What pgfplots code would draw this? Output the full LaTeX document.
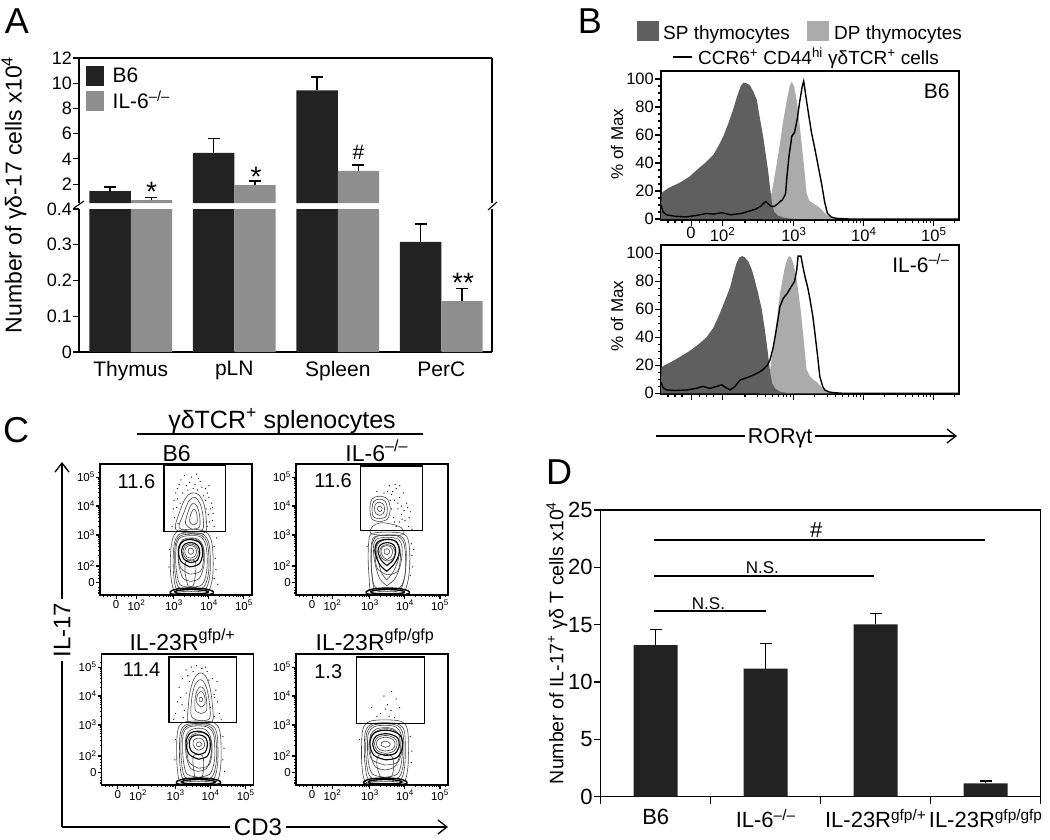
\documentclass[border=0pt]{standalone}
\usepackage{fontspec}
\setmainfont{Liberation Sans}
\usepackage{pgfplots}
\pgfplotsset{compat=1.18}
\usetikzlibrary{arrows.meta}

\definecolor{barK}{HTML}{222222}
\definecolor{barG}{HTML}{8E8E8E}
\definecolor{spG}{HTML}{5F5F5F}
\definecolor{dpG}{HTML}{ABABAB}
\newcommand{\fs}[1]{\fontsize{#1}{#1}\selectfont}

\pgfplotsset{
  every axis/.append style={scale only axis, anchor=south west,
    /pgf/number format/assume math mode=true, clip marker paths=true,
    axis line style={line width=1.1pt}, tick style={line width=1.1pt,black},
    tick align=outside},
  errs/.style={error bars/y dir=plus, error bars/y explicit,
    error bars/error bar style={line width=1.4pt,black},
    error bars/error mark options={rotate=90,black,line width=1.4pt,mark size=6pt}},
  flow/.style={width=152pt, height=131pt,
    xmin=0.89, xmax=5.23, ymin=0.93, ymax=5.45,
    xtick={1.35,1.93,3,4,5}, ytick={1.35,1.93,3,4,5},
    xticklabels={0,{10\textsuperscript{2}},{10\textsuperscript{3}},{10\textsuperscript{4}},{10\textsuperscript{5}}},
    yticklabels={0,{10\textsuperscript{2}},{10\textsuperscript{3}},{10\textsuperscript{4}},{10\textsuperscript{5}}},
    minor xtick={1.0,1.1,1.2,1.5,1.6,1.7,1.8,2.30,2.48,2.60,2.70,2.78,2.85,2.90,2.95,3.30,3.48,3.60,3.70,3.78,3.85,3.90,3.95,4.30,4.48,4.60,4.70,4.78,4.85,4.90,4.95,5.15},
    minor ytick={1.0,1.1,1.2,1.5,1.6,1.7,1.8,2.30,2.48,2.60,2.70,2.78,2.85,2.90,2.95,3.30,3.48,3.60,3.70,3.78,3.85,3.90,3.95,4.30,4.48,4.60,4.70,4.78,4.85,4.90,4.95,5.15},
    major tick length=4pt, minor tick length=2pt,
    xtick pos=bottom, ytick pos=left,
    ticklabel style={font=\fs{11.5}, inner sep=1pt},
    axis line style={line width=1.2pt}},
  cO/.style={smooth, tension=0.55, mark=none, line width=0.6pt, draw=black!72},
  cR/.style={smooth, tension=0.55, mark=none, line width=1.1pt, draw=black},
  cB/.style={smooth, tension=0.55, mark=none, line width=1.4pt, draw=black},
  dots/.style={only marks, mark=*, mark size=0.35pt, mark options={draw=none, fill=black!60}},
  hist/.style={width=298pt, height=149pt, xmin=1.10, xmax=5.36, ymin=-0.7, ymax=105.7,
    ytick={0,20,40,60,80,100}, minor y tick num=3,
    xtick={1.53,1.98,3,4,5},
    minor xtick={1.2,1.3,1.4,1.65,1.75,1.85,2.30,2.48,2.60,2.70,2.78,2.85,2.90,2.95,3.30,3.48,3.60,3.70,3.78,3.85,3.90,3.95,4.30,4.48,4.60,4.70,4.78,4.85,4.90,4.95,5.30},
    major tick length=6pt, minor tick length=3pt,
    xtick pos=bottom, ytick pos=left,
    ticklabel style={font=\fs{16.5}, inner sep=1pt},
    axis line style={line width=1.4pt}},
}

\begin{document}
\begin{tikzpicture}
\path[use as bounding box] (0pt,0pt) rectangle (1050pt,-839pt);

% ---------------- panel A
\node[font=\fs{36}] at (17pt,-21pt) {A};
\begin{axis}[at={(79pt,-352pt)}, width=413pt, height=143pt,
  xmin=-0.5, xmax=3.49, ymin=0, ymax=0.4,
  axis x line*=bottom, axis y line*=box, ytick pos=left,
  ytick={0,0.1,0.2,0.3,0.4}, yticklabels={0,0.1,0.2,0.3,0.4},
  xtick={0,1,2,3}, xticklabels={Thymus,pLN,Spleen,PerC},
  x tick style={draw=none}, major tick length=6pt,
  yticklabel style={font=\fs{18}, inner sep=1pt},
  xticklabel style={font=\fs{21}}]
\addplot[ybar, bar width=0.4, bar shift=0pt, fill=barK, draw=none, errs]
  coordinates {(-0.2,1.44) +- (0,0.32) (0.8,4.48) +- (0,1.12) (1.8,9.44) +- (0,1.04) (2.8,0.308) +- (0,0.05)};
\addplot[ybar, bar width=0.4, bar shift=0pt, fill=barG, draw=none, errs]
  coordinates {(0.2,0.72) +- (0,0.24) (1.2,1.92) +- (0,0.32) (2.2,3.04) +- (0,0.48) (3.2,0.142) +- (0,0.036)};
\node[font=\fs{28}, anchor=north, inner sep=0pt] at (axis cs:3.21,0.222) {**};
\end{axis}
\begin{axis}[at={(79pt,-203pt)}, width=413pt, height=145pt,
  xmin=-0.5, xmax=3.49, ymin=0.5, ymax=12,
  axis x line*=top, axis y line*=box, ytick pos=left,
  ytick={2,4,6,8,10,12}, xtick=\empty, major tick length=6pt,
  yticklabel style={font=\fs{18}, inner sep=1pt},
  legend style={at={(0.017,0.945)}, anchor=north west, draw=none, fill=none,
    font=\fs{21}, inner sep=0pt, row sep=3pt, nodes={inner sep=1.5pt, anchor=west}},
  legend image code/.code={\fill[#1] (0pt,-10pt) rectangle (18pt,10pt); \path (25pt,0pt);}]
\addlegendimage{fill=barK, draw=none}
\addlegendentry{B6}
\addlegendimage{fill=barG, draw=none}
\addlegendentry{IL-6\textsuperscript{–/–}}
% upper part of the broken axis: only the groups that reach above 0.5
\addplot[ybar, bar width=0.4, bar shift=0pt, fill=barK, draw=none, errs, forget plot]
  coordinates {(-0.2,1.44) +- (0,0.32) (0.8,4.48) +- (0,1.12) (1.8,9.44) +- (0,1.04)};
\addplot[ybar, bar width=0.4, bar shift=0pt, fill=barG, draw=none, errs, forget plot]
  coordinates {(0.2,0.72) +- (0,0.24) (1.2,1.92) +- (0,0.32) (2.2,3.04) +- (0,0.48)};
\node[font=\fs{28}, anchor=north, inner sep=0pt] at (axis cs:0.2,2.18) {*};
\node[font=\fs{28}, anchor=north, inner sep=0pt] at (axis cs:1.21,3.38) {*};
\node[font=\fs{21}, anchor=north, inner sep=0pt] at (axis cs:2.2,5.12) {\#};
\end{axis}
\draw[line width=1.1pt] (74pt,-208pt) -- (84pt,-201pt);
\draw[line width=1.1pt] (488pt,-210pt) -- (497pt,-202pt);
\node[rotate=90, font=\fs{23}] at (14pt,-195pt) {Number of γδ-17 cells x10\textsuperscript{4}};

% ---------------- panel B
\node[font=\fs{36}] at (590pt,-21pt) {B};
\fill[spG] (637pt,-20.7pt) rectangle (659pt,-41pt);
\node[anchor=base west, font=\fs{19}, inner sep=0pt] at (663pt,-39pt) {SP thymocytes};
\fill[dpG] (807pt,-20.7pt) rectangle (829pt,-41pt);
\node[anchor=base west, font=\fs{19}, inner sep=0pt] at (834pt,-39pt) {DP thymocytes};
\draw[line width=1.3pt] (673pt,-57pt) -- (692pt,-57pt);
\node[anchor=base west, font=\fs{19}, inner sep=0pt] at (698pt,-64pt) {CCR6\textsuperscript{+} CD44\textsuperscript{hi} γδTCR\textsuperscript{+} cells};

\begin{axis}[hist, at={(661pt,-220pt)},
  xticklabels={0,{10\textsuperscript{2}},{10\textsuperscript{3}},{10\textsuperscript{4}},{10\textsuperscript{5}}}]
\addplot[fill=dpG, draw=none] coordinates {(2.55,0) (2.6,2) (2.64,7) (2.68,18.5) (2.74,35) (2.80,54) (2.85,71) (2.90,85) (2.94,95) (2.97,98) (3.0,95) (3.04,85) (3.08,68) (3.11,54) (3.15,35) (3.18,18.5) (3.22,13) (3.28,11) (3.33,9.5) (3.37,8) (3.42,5.5) (3.47,3) (3.52,1.2) (3.56,0.5) (3.62,0)} \closedcycle;
\addplot[fill=spG, draw=none] coordinates {(1.10,0) (1.105,18) (1.13,19.5) (1.2,22) (1.37,26) (1.5,30) (1.61,35) (1.73,40) (1.85,46) (1.93,53) (1.99,59) (2.06,68) (2.13,78) (2.19,88) (2.24,95) (2.28,97.5) (2.32,97) (2.37,95.5) (2.42,91) (2.47,85) (2.51,73) (2.56,59) (2.60,45) (2.63,35) (2.65,26) (2.67,18) (2.69,10) (2.72,5) (2.77,2.5) (2.85,1) (2.95,0.3) (3.05,0)} \closedcycle;
\addplot[black, line width=1.4pt, mark=none] coordinates {(1.10,10) (1.13,5) (1.18,3) (1.3,2) (1.45,1.5) (1.6,2.5) (1.75,4) (1.85,3.5) (1.97,4.5) (2.1,3) (2.25,4) (2.35,5.5) (2.45,7) (2.52,9) (2.56,11) (2.60,12.5) (2.64,10.5) (2.68,9) (2.72,9) (2.77,11) (2.84,14) (2.88,18) (2.90,30) (2.93,45) (2.97,59) (3.01,62) (3.05,72) (3.08,83) (3.12,95) (3.14,98.5) (3.17,88) (3.20,78) (3.25,62) (3.30,50) (3.35,37) (3.40,24) (3.44,12) (3.48,4) (3.53,1.5) (3.6,0.5) (3.8,0) (5.36,0)};
\end{axis}
\node[anchor=base east, font=\fs{21}] at (953pt,-98pt) {B6};

\begin{axis}[hist, at={(661pt,-394pt)}, ymin=-0.5, ymax=105.9, xticklabels={}]
\addplot[fill=dpG, draw=none] coordinates {(2.5,0) (2.56,5) (2.62,11) (2.66,17) (2.70,30) (2.73,43) (2.77,58) (2.80,71) (2.84,82) (2.87,90) (2.90,95) (2.93,98) (2.96,97) (2.99,93) (3.03,84) (3.06,74) (3.10,58) (3.13,43) (3.16,28) (3.18,17) (3.22,13) (3.25,11) (3.30,9) (3.35,7) (3.40,4) (3.44,2) (3.51,0.5) (3.58,0)} \closedcycle;
\addplot[fill=spG, draw=none] coordinates {(1.10,0) (1.105,18) (1.13,19.5) (1.25,22.5) (1.37,26) (1.47,29) (1.56,32) (1.66,36) (1.75,40) (1.85,47) (1.94,57) (2.02,67) (2.09,76) (2.14,86) (2.18,93) (2.22,97) (2.26,98) (2.30,97) (2.35,94) (2.40,88) (2.44,81) (2.49,71) (2.54,60) (2.58,47) (2.61,36) (2.64,24) (2.66,15) (2.69,7) (2.73,3.5) (2.80,1.2) (2.9,0.3) (3.0,0)} \closedcycle;
\addplot[black, line width=1.4pt, mark=none] coordinates {(1.10,8) (1.13,4) (1.18,2.4) (1.3,2) (1.47,2.4) (1.6,3.5) (1.70,5) (1.80,3.5) (1.90,5) (1.97,6) (2.03,4) (2.09,2.4) (2.16,5) (2.23,9.5) (2.32,11) (2.42,13) (2.50,15) (2.56,17) (2.62,20) (2.66,24) (2.70,32) (2.73,40) (2.77,52) (2.80,62) (2.85,68) (2.90,71) (2.96,76) (3.01,80) (3.04,88) (3.06,98) (3.10,98) (3.13,90) (3.16,83) (3.20,75) (3.23,67) (3.27,55) (3.30,43) (3.34,26) (3.37,12) (3.41,5) (3.44,2.4) (3.5,1) (3.56,0.5) (3.7,0) (5.36,0)};
\end{axis}
\node[anchor=base east, font=\fs{21}] at (953pt,-272pt) {IL-6\textsuperscript{–/–}};
\node[rotate=90, font=\fs{17}] at (617pt,-144pt) {\% of Max};
\node[rotate=90, font=\fs{17}] at (617pt,-316pt) {\% of Max};
\draw[line width=1.3pt, -{Straight Barb[length=9pt,width=14pt]}] (656pt,-436pt) -- (957pt,-436pt);
\node[anchor=base, fill=white, font=\fs{21.5}, inner sep=3pt] at (780pt,-443pt) {RORγt};

% ---------------- panel C
\node[font=\fs{36}] at (16pt,-430pt) {C};
\node[anchor=base, font=\fs{25}] at (282pt,-428pt) {γδTCR\textsuperscript{+} splenocytes};
\draw[line width=1.2pt] (137pt,-434pt) -- (423pt,-434pt);
\node[anchor=base, font=\fs{23}] at (176.7pt,-461pt) {B6};
\node[anchor=base, font=\fs{23}] at (376.7pt,-461pt) {IL-6\textsuperscript{–/–}};
\node[anchor=base, font=\fs{23}] at (182.5pt,-650pt) {IL-23R\textsuperscript{gfp/+}};
\node[anchor=base, font=\fs{23}] at (375pt,-650pt) {IL-23R\textsuperscript{gfp/gfp}};

% B6
\begin{axis}[flow, at={(100pt,-595pt)}]
\addplot[dots] coordinates {(3.0,4.2) (3.1,4.6) (3.2,4.9) (3.35,4.7) (3.5,5.0) (3.6,4.75) (3.75,4.85) (3.9,4.6) (4.0,4.3) (4.05,3.9) (4.1,3.5) (4.15,3.3) (3.98,3.7) (3.95,4.45) (3.02,3.6) (2.95,3.3) (3.08,3.95) (3.25,4.45) (3.4,4.55) (3.8,4.65) (3.68,4.55) (4.08,4.1) (3.92,3.9) (2.98,3.9) (3.12,3.4) (3.55,4.6) (3.85,4.35) (4.02,3.45) (3.3,5.05) (3.65,5.1) (4.12,3.75) (3.1,4.25) (3.45,4.82) (4.0,4.7) (4.15,2.6) (4.18,2.2) (4.2,1.8) (4.15,1.5) (4.22,2.9) (2.88,2.5) (2.86,1.9) (4.25,1.3) (3.05,4.45) (3.18,4.1) (3.9,4.2) (3.95,3.3) (3.7,4.95) (3.15,4.75) (4.1,3.95) (3.05,3.25)};
\addplot[cO] coordinates {(3.5,0.98) (3.95,1.02) (4.1,1.5) (4.12,2.2) (4.07,2.8) (3.9,3.12) (3.5,3.2) (3.1,3.12) (2.95,2.8) (2.9,2.2) (2.92,1.5) (3.05,1.02) (3.5,0.98)};
\addplot[cO] coordinates {(3.5,1.05) (3.88,1.1) (4.02,1.55) (4.04,2.2) (3.99,2.75) (3.84,3.02) (3.5,3.08) (3.15,3.02) (3.02,2.75) (2.98,2.2) (3.0,1.55) (3.1,1.1) (3.5,1.05)};
\addplot[cO] coordinates {(3.49,1.12) (3.84,1.19) (3.98,1.62) (4.0,2.22) (3.95,2.72) (3.8,2.98) (3.49,3.03) (3.18,2.97) (3.05,2.72) (3.02,2.2) (3.04,1.62) (3.14,1.19) (3.49,1.12)};
\addplot[cO] coordinates {(3.48,1.2) (3.8,1.28) (3.93,1.7) (3.95,2.25) (3.9,2.7) (3.76,2.94) (3.48,2.98) (3.2,2.92) (3.08,2.7) (3.05,2.2) (3.08,1.7) (3.18,1.28) (3.48,1.2)};
\addplot[cO] coordinates {(3.47,1.4) (3.72,1.5) (3.85,1.9) (3.87,2.3) (3.82,2.66) (3.68,2.86) (3.47,2.9) (3.26,2.84) (3.14,2.62) (3.12,2.2) (3.17,1.8) (3.27,1.5) (3.47,1.4)};
\addplot[cO] coordinates {(3.46,1.65) (3.76,1.75) (3.85,2.2) (3.82,2.62) (3.62,2.86) (3.4,2.86) (3.2,2.7) (3.13,2.3) (3.2,1.85) (3.46,1.65)};
\addplot[cO] coordinates {(3.4,1.25) (3.55,1.25) (3.62,1.7) (3.6,2.1) (3.35,2.1) (3.32,1.7) (3.4,1.25)};
\addplot[cR] coordinates {(3.45,1.9) (3.72,2.0) (3.82,2.35) (3.76,2.7) (3.52,2.84) (3.25,2.78) (3.13,2.5) (3.2,2.1) (3.45,1.9)};
\addplot[cR] coordinates {(3.46,2.05) (3.66,2.12) (3.74,2.4) (3.68,2.64) (3.5,2.74) (3.3,2.68) (3.22,2.47) (3.28,2.18) (3.46,2.05)};
\addplot[cO] coordinates {(3.46,2.12) (3.63,2.2) (3.7,2.42) (3.63,2.62) (3.47,2.69) (3.32,2.62) (3.26,2.44) (3.32,2.22) (3.46,2.12)};
\addplot[cO] coordinates {(3.47,2.2) (3.6,2.27) (3.65,2.45) (3.58,2.6) (3.45,2.64) (3.34,2.56) (3.31,2.4) (3.36,2.26) (3.47,2.2)};
\addplot[cO] coordinates {(3.48,2.33) (3.55,2.38) (3.56,2.48) (3.49,2.55) (3.41,2.5) (3.41,2.39) (3.48,2.33)};
\addplot[cO] coordinates {(3.5,3.05) (3.9,3.1) (3.92,3.6) (3.85,4.1) (3.7,4.4) (3.5,4.45) (3.32,4.25) (3.15,3.75) (3.05,3.2) (3.5,3.05)};
\addplot[cO] coordinates {(3.5,3.12) (3.82,3.18) (3.83,3.65) (3.75,4.08) (3.6,4.3) (3.43,4.18) (3.28,3.75) (3.15,3.25) (3.5,3.12)};
\addplot[cO] coordinates {(3.52,3.2) (3.73,3.28) (3.73,3.7) (3.65,4.02) (3.52,4.08) (3.42,3.85) (3.33,3.4) (3.52,3.2)};
\addplot[cO] coordinates {(3.55,3.35) (3.66,3.42) (3.65,3.75) (3.57,3.9) (3.48,3.7) (3.45,3.45) (3.55,3.35)};
\addplot[cB] coordinates {(3.5,0.94) (4.05,0.96) (4.12,1.05) (3.9,1.14) (3.5,1.17) (3.1,1.14) (2.9,1.05) (2.97,0.96) (3.5,0.94)};
\addplot[cB] coordinates {(3.5,0.97) (3.9,0.99) (3.98,1.05) (3.8,1.1) (3.5,1.12) (3.2,1.1) (3.03,1.05) (3.1,0.99) (3.5,0.97)};
\draw[line width=1.2pt] (axis cs:2.72,3.11) rectangle (axis cs:4.48,5.39);
\node[font=\fs{20}] at (axis cs:1.93,4.84) {11.6};
\end{axis}

% IL-6 -/-
\begin{axis}[flow, at={(296pt,-595pt)}]
\addplot[dots] coordinates {(3.55,4.7) (3.65,4.5) (3.75,4.6) (3.85,4.3) (3.95,4.45) (4.05,4.1) (3.7,4.2) (3.8,3.9) (3.9,3.7) (4.0,3.5) (4.1,3.3) (3.62,3.9) (3.68,3.6) (3.85,3.45) (4.15,3.8) (4.2,3.2) (3.58,4.2) (3.72,4.75) (3.9,4.0) (3.98,3.85) (4.12,3.6) (3.75,3.3) (4.05,3.15) (3.4,4.45) (3.2,4.5) (4.18,2.7) (4.2,2.3) (4.22,1.9) (4.15,1.6) (2.92,2.6) (4.25,2.5) (3.62,4.4) (3.8,4.1) (3.92,3.55) (4.08,3.95) (3.7,3.45) (3.5,4.5) (3.85,4.7)};
\addplot[cO] coordinates {(3.5,0.98) (3.95,1.02) (4.1,1.5) (4.14,2.2) (4.1,2.8) (3.95,3.05) (3.5,3.1) (3.05,3.05) (2.97,2.8) (2.95,2.2) (2.98,1.5) (3.05,1.02) (3.5,0.98)};
\addplot[cO] coordinates {(3.5,1.05) (3.86,1.1) (4.0,1.6) (4.04,2.3) (4.0,2.78) (3.85,2.98) (3.5,3.0) (3.15,2.95) (3.05,2.75) (3.03,2.2) (3.06,1.6) (3.15,1.1) (3.5,1.05)};
\addplot[cO] coordinates {(3.5,1.12) (3.86,1.19) (4.0,1.62) (4.02,2.22) (3.97,2.72) (3.82,2.95) (3.5,3.0) (3.2,2.95) (3.07,2.72) (3.04,2.2) (3.06,1.62) (3.16,1.19) (3.5,1.12)};
\addplot[cO] coordinates {(3.48,1.25) (3.72,1.5) (3.88,2.0) (3.92,2.55) (3.82,2.85) (3.5,2.92) (3.18,2.85) (3.1,2.55) (3.15,2.0) (3.28,1.5) (3.48,1.25)};
\addplot[cO] coordinates {(3.48,1.45) (3.65,1.7) (3.8,2.1) (3.84,2.55) (3.74,2.78) (3.5,2.84) (3.26,2.78) (3.17,2.55) (3.24,2.1) (3.33,1.7) (3.48,1.45)};
\addplot[cO] coordinates {(3.48,1.63) (3.78,1.73) (3.87,2.18) (3.84,2.6) (3.64,2.84) (3.42,2.84) (3.22,2.68) (3.15,2.28) (3.22,1.83) (3.48,1.63)};
\addplot[cR] coordinates {(3.48,1.75) (3.7,2.0) (3.84,2.4) (3.76,2.76) (3.5,2.85) (3.22,2.76) (3.14,2.45) (3.27,2.0) (3.48,1.75)};
\addplot[cR] coordinates {(3.48,1.95) (3.65,2.12) (3.74,2.42) (3.68,2.66) (3.5,2.74) (3.3,2.66) (3.23,2.44) (3.32,2.14) (3.48,1.95)};
\addplot[cO] coordinates {(3.48,2.1) (3.65,2.18) (3.72,2.4) (3.65,2.6) (3.49,2.67) (3.34,2.6) (3.28,2.42) (3.34,2.2) (3.48,2.1)};
\addplot[cO] coordinates {(3.48,2.15) (3.6,2.25) (3.65,2.44) (3.58,2.6) (3.47,2.63) (3.35,2.57) (3.32,2.42) (3.38,2.25) (3.48,2.15)};
\addplot[cO] coordinates {(3.48,2.32) (3.55,2.37) (3.56,2.46) (3.49,2.53) (3.41,2.48) (3.41,2.38) (3.48,2.32)};
\addplot[cO] coordinates {(3.5,2.98) (3.95,3.02) (3.9,3.25) (3.6,3.38) (3.3,3.42) (3.08,3.3) (3.03,3.05) (3.5,2.98)};
\addplot[cO] coordinates {(3.27,3.46) (3.5,3.55) (3.58,3.9) (3.5,4.24) (3.27,4.34) (3.06,4.24) (3.0,3.9) (3.06,3.55) (3.27,3.46)};
\addplot[cO] coordinates {(3.27,3.56) (3.45,3.63) (3.5,3.9) (3.44,4.16) (3.27,4.24) (3.11,4.16) (3.06,3.9) (3.1,3.63) (3.27,3.56)};
\addplot[cO] coordinates {(3.27,3.68) (3.38,3.74) (3.42,3.92) (3.37,4.08) (3.27,4.13) (3.17,4.08) (3.13,3.92) (3.17,3.74) (3.27,3.68)};
\addplot[cO] coordinates {(3.28,3.8) (3.34,3.85) (3.35,3.93) (3.3,4.0) (3.23,3.97) (3.21,3.88) (3.28,3.8)};
\addplot[cB] coordinates {(3.5,0.94) (4.05,0.96) (4.12,1.05) (3.9,1.14) (3.5,1.17) (3.1,1.14) (2.9,1.05) (2.97,0.96) (3.5,0.94)};
\addplot[cB] coordinates {(3.5,0.97) (3.9,0.99) (3.98,1.05) (3.8,1.1) (3.5,1.12) (3.2,1.1) (3.03,1.05) (3.1,0.99) (3.5,0.97)};
\draw[line width=1.2pt] (axis cs:2.73,3.15) rectangle (axis cs:4.51,5.38);
\node[font=\fs{20}] at (axis cs:1.95,4.86) {11.6};
\end{axis}

% IL-23R gfp/+
\begin{axis}[flow, at={(101.7pt,-785pt)}]
\addplot[dots] coordinates {(3.0,3.4) (3.05,3.8) (3.1,4.3) (3.2,4.6) (3.3,4.9) (3.45,5.0) (3.6,5.05) (3.75,4.95) (3.9,4.85) (4.05,4.6) (4.15,4.2) (4.2,3.8) (4.25,3.4) (4.1,3.3) (4.18,4.5) (3.25,3.5) (3.3,4.1) (3.4,4.5) (3.95,4.55) (4.12,3.95) (2.95,3.2) (3.15,3.95) (4.3,3.2) (3.5,4.85) (3.85,5.0) (4.35,2.6) (4.38,2.2) (4.35,1.8) (4.4,1.4) (3.0,2.5) (2.98,1.8) (3.22,3.25) (4.1,4.05) (3.35,4.7) (4.0,3.6) (3.18,3.7)};
\addplot[cO] coordinates {(3.65,0.98) (4.15,1.02) (4.28,1.5) (4.3,2.2) (4.26,2.8) (4.1,3.08) (3.65,3.14) (3.2,3.08) (3.06,2.8) (3.03,2.2) (3.05,1.5) (3.15,1.02) (3.65,0.98)};
\addplot[cO] coordinates {(3.65,1.05) (4.06,1.1) (4.19,1.55) (4.21,2.2) (4.17,2.75) (4.02,3.0) (3.65,3.05) (3.28,3.0) (3.14,2.75) (3.11,2.2) (3.13,1.55) (3.24,1.1) (3.65,1.05)};
\addplot[cO] coordinates {(3.65,1.12) (4.02,1.19) (4.15,1.62) (4.17,2.2) (4.12,2.72) (3.97,2.96) (3.65,3.01) (3.32,2.96) (3.18,2.72) (3.15,2.2) (3.18,1.62) (3.28,1.19) (3.65,1.12)};
\addplot[cO] coordinates {(3.65,1.2) (3.97,1.3) (4.1,1.7) (4.12,2.2) (4.08,2.7) (3.93,2.92) (3.65,2.97) (3.36,2.92) (3.22,2.7) (3.2,2.2) (3.23,1.7) (3.33,1.3) (3.65,1.2)};
\addplot[cO] coordinates {(3.64,1.4) (3.88,1.5) (4.0,1.9) (4.03,2.3) (3.98,2.65) (3.84,2.85) (3.64,2.89) (3.43,2.83) (3.3,2.62) (3.28,2.2) (3.33,1.8) (3.43,1.5) (3.64,1.4)};
\addplot[cO] coordinates {(3.65,1.51) (3.95,1.61) (4.04,2.06) (4.01,2.48) (3.81,2.72) (3.59,2.72) (3.39,2.56) (3.32,2.16) (3.39,1.71) (3.65,1.51)};
\addplot[cO] coordinates {(3.55,1.2) (3.75,1.2) (3.8,1.6) (3.76,1.95) (3.52,1.95) (3.5,1.6) (3.55,1.2)};
\addplot[cR] coordinates {(3.65,1.82) (3.9,1.92) (3.99,2.25) (3.94,2.62) (3.7,2.78) (3.42,2.72) (3.3,2.42) (3.38,2.0) (3.65,1.82)};
\addplot[cR] coordinates {(3.65,1.98) (3.84,2.06) (3.91,2.32) (3.86,2.56) (3.68,2.66) (3.47,2.6) (3.39,2.38) (3.45,2.1) (3.65,1.98)};
\addplot[cO] coordinates {(3.66,2.13) (3.79,2.2) (3.83,2.35) (3.77,2.5) (3.64,2.55) (3.52,2.48) (3.5,2.33) (3.55,2.2) (3.66,2.13)};
\addplot[cO] coordinates {(3.66,2.25) (3.73,2.29) (3.74,2.36) (3.68,2.42) (3.6,2.38) (3.6,2.29) (3.66,2.25)};
\addplot[cO] coordinates {(3.7,3.05) (4.05,3.12) (4.05,3.7) (3.98,4.3) (3.85,4.7) (3.7,4.8) (3.55,4.65) (3.42,4.2) (3.36,3.6) (3.36,3.12) (3.7,3.05)};
\addplot[cO] coordinates {(3.7,3.15) (3.97,3.22) (3.97,3.7) (3.9,4.22) (3.78,4.52) (3.66,4.55) (3.54,4.35) (3.46,3.9) (3.45,3.3) (3.7,3.15)};
\addplot[cO] coordinates {(3.72,3.4) (3.88,3.5) (3.88,3.9) (3.82,4.22) (3.7,4.32) (3.6,4.15) (3.55,3.8) (3.57,3.5) (3.72,3.4)};
\addplot[cO] coordinates {(3.72,3.62) (3.83,3.7) (3.84,3.93) (3.78,4.12) (3.7,4.15) (3.62,4.02) (3.6,3.78) (3.72,3.62)};
\addplot[cO] coordinates {(3.72,3.8) (3.77,3.84) (3.77,3.92) (3.72,3.96) (3.67,3.92) (3.67,3.84) (3.72,3.8)};
\addplot[cB] coordinates {(3.65,0.94) (4.2,0.96) (4.28,1.05) (4.05,1.14) (3.65,1.17) (3.25,1.14) (3.03,1.05) (3.1,0.96) (3.65,0.94)};
\addplot[cB] coordinates {(3.65,0.97) (4.05,0.99) (4.13,1.05) (3.95,1.1) (3.65,1.12) (3.35,1.1) (3.18,1.05) (3.25,0.99) (3.65,0.97)};
\draw[line width=1.2pt] (axis cs:2.81,3.09) rectangle (axis cs:4.74,5.35);
\node[font=\fs{20}] at (axis cs:2.03,4.9) {11.4};
\end{axis}

% IL-23R gfp/gfp
\begin{axis}[flow, at={(296pt,-785pt)}]
\addplot[dots] coordinates {(3.05,3.6) (3.3,3.4) (3.5,3.7) (3.6,3.5) (3.75,3.9) (3.4,4.0) (3.7,3.25) (3.55,3.3) (3.85,3.6) (3.2,3.3) (4.15,2.6) (4.2,2.1) (4.18,1.7) (2.7,2.5) (3.62,4.15) (3.45,3.55)};
\addplot[cO] coordinates {(3.43,0.98) (3.95,1.02) (4.08,1.5) (4.1,2.2) (4.07,2.85) (3.9,3.12) (3.43,3.18) (2.98,3.12) (2.8,2.85) (2.76,2.2) (2.78,1.5) (2.9,1.02) (3.43,0.98)};
\addplot[cO] coordinates {(3.43,1.05) (3.86,1.1) (3.99,1.55) (4.01,2.25) (3.98,2.8) (3.82,3.03) (3.43,3.08) (3.05,3.03) (2.88,2.8) (2.84,2.25) (2.87,1.55) (2.98,1.1) (3.43,1.05)};
\addplot[cO] coordinates {(3.43,1.12) (3.82,1.19) (3.95,1.62) (3.97,2.27) (3.93,2.76) (3.78,2.99) (3.43,3.04) (3.08,2.99) (2.92,2.76) (2.88,2.27) (2.91,1.62) (3.03,1.19) (3.43,1.12)};
\addplot[cO] coordinates {(3.43,1.2) (3.78,1.3) (3.9,1.7) (3.93,2.3) (3.88,2.72) (3.73,2.94) (3.43,2.99) (3.12,2.94) (2.96,2.72) (2.93,2.3) (2.96,1.7) (3.08,1.3) (3.43,1.2)};
\addplot[cO] coordinates {(3.43,1.45) (3.7,1.55) (3.84,1.9) (3.87,2.35) (3.82,2.68) (3.66,2.87) (3.43,2.91) (3.18,2.86) (3.02,2.66) (3.0,2.3) (3.04,1.9) (3.16,1.55) (3.43,1.45)};
\addplot[cO] coordinates {(3.43,1.62) (3.8,1.72) (3.92,2.2) (3.88,2.62) (3.6,2.85) (3.3,2.85) (3.05,2.65) (2.97,2.25) (3.06,1.8) (3.43,1.62)};
\addplot[cO] coordinates {(3.3,1.2) (3.6,1.2) (3.68,1.6) (3.6,1.95) (3.25,1.95) (3.2,1.6) (3.3,1.2)};
\addplot[cR] coordinates {(3.45,1.8) (3.78,1.88) (3.93,2.25) (3.86,2.65) (3.5,2.82) (3.12,2.72) (3.0,2.35) (3.12,1.95) (3.45,1.8)};
\addplot[cR] coordinates {(3.45,1.95) (3.72,2.02) (3.84,2.3) (3.77,2.58) (3.48,2.7) (3.18,2.62) (3.08,2.36) (3.18,2.06) (3.45,1.95)};
\addplot[cO] coordinates {(3.44,2.02) (3.68,2.09) (3.78,2.32) (3.71,2.54) (3.47,2.64) (3.22,2.57) (3.13,2.35) (3.22,2.11) (3.44,2.02)};
\addplot[cO] coordinates {(3.44,2.1) (3.64,2.16) (3.72,2.33) (3.66,2.5) (3.46,2.58) (3.26,2.52) (3.18,2.35) (3.26,2.17) (3.44,2.1)};
\addplot[cO] coordinates {(3.44,2.23) (3.55,2.27) (3.58,2.34) (3.52,2.42) (3.42,2.44) (3.33,2.39) (3.32,2.3) (3.44,2.23)};
\addplot[cB] coordinates {(3.43,0.94) (3.98,0.96) (4.05,1.05) (3.83,1.14) (3.43,1.17) (3.03,1.14) (2.83,1.05) (2.9,0.96) (3.43,0.94)};
\addplot[cB] coordinates {(3.43,0.97) (3.83,0.99) (3.91,1.05) (3.73,1.1) (3.43,1.12) (3.13,1.1) (2.96,1.05) (3.03,0.99) (3.43,0.97)};
\draw[line width=1.2pt] (axis cs:2.62,3.06) rectangle (axis cs:4.57,5.35);
\node[font=\fs{20}] at (axis cs:1.81,4.84) {1.3};
\end{axis}

\draw[line width=1.3pt, -{Straight Barb[length=9pt,width=14pt]}] (62pt,-827pt) -- (62pt,-462pt);
\draw[line width=1.3pt, -{Straight Barb[length=9pt,width=14pt]}] (62pt,-827pt) -- (448pt,-827pt);
\node[rotate=90, fill=white, font=\fs{24}, inner sep=4pt] at (62pt,-630pt) {IL-17};
\node[fill=white, font=\fs{24}, inner sep=4pt] at (258pt,-827pt) {CD3};

% ---------------- panel D
\node[font=\fs{36}] at (559pt,-472pt) {D};
\begin{axis}[at={(600.7pt,-796.7pt)}, width=440pt, height=286.7pt,
  xmin=-0.5, xmax=3.5, ymin=0, ymax=25,
  ytick={0,5,10,15,20,25},
  xtick={-0.5,0.5,1.5,2.5,3.5}, xticklabels={},
  extra x ticks={0,1,2,3},
  extra x tick labels={B6,{IL-6\textsuperscript{–/–}},{IL-23R\textsuperscript{gfp/+}},{IL-23R\textsuperscript{gfp/gfp}}},
  extra x tick style={major tick length=0pt, xticklabel style={yshift=-9pt}},
  xtick pos=bottom, ytick pos=left, major tick length=7pt,
  axis line style={line width=1.2pt},
  yticklabel style={font=\fs{22}, inner sep=1pt},
  xticklabel style={font=\fs{22}}]
\addplot[ybar, bar width=0.4, bar shift=0pt, fill=barK, draw=none, errs]
  coordinates {(0,13.22) +- (0,1.38) (1,11.18) +- (0,2.19) (2,15.03) +- (0,0.97) (3,1.17) +- (0,0.2)};
\draw[line width=1.5pt] (axis cs:-0.015,22.4) -- (axis cs:2.99,22.4);
\draw[line width=1.5pt] (axis cs:-0.015,19.26) -- (axis cs:1.98,19.26);
\draw[line width=1.5pt] (axis cs:-0.015,16.2) -- (axis cs:1.0,16.2);
\node[font=\fs{22}] at (axis cs:1.46,23.25) {\#};
\node[font=\fs{17}] at (axis cs:0.97,20.0) {N.S.};
\node[font=\fs{17}] at (axis cs:0.48,16.86) {N.S.};
\end{axis}
\node[rotate=90, font=\fs{19.5}] at (557pt,-643pt) {Number of IL-17\textsuperscript{+} γδ T cells x10\textsuperscript{4}};
\end{tikzpicture}
\end{document}
